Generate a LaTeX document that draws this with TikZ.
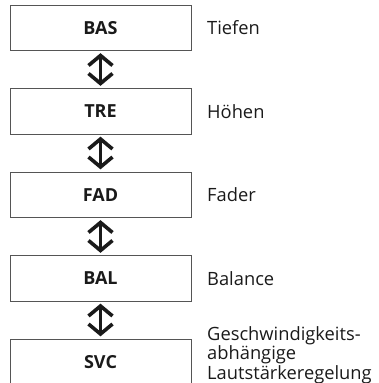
\documentclass[tikz,border=0pt]{standalone}
\usepackage{fontspec}
\setmainfont{Open Sans}
\usetikzlibrary{arrows.meta}
\definecolor{boxline}{HTML}{555555}
\definecolor{ink}{HTML}{1A1A1A}
\tikzset{
  stepbox/.style={draw=boxline, line width=0.9pt, minimum width=181pt, minimum height=45.5pt,
    inner sep=0pt, font=\fontsize{18}{20}\selectfont\bfseries, text=ink},
  desc/.style={anchor=west, inner sep=0pt, font=\fontsize{18.3}{19.5}\selectfont, text=ink, align=left},
  dblarrow/.style={draw=ink, line width=3.6pt, shorten <=2.2pt, shorten >=2.2pt,
    {Straight Barb[length=10pt,width=24pt]}-{Straight Barb[length=10pt,width=24pt]}}
}
\begin{document}
\begin{tikzpicture}[x=1pt,y=-1pt]
\useasboundingbox (0,0) rectangle (379,383);
\clip (0,0) rectangle (379,383);
\node[stepbox] (bas) at (100.5,27.75) {BAS};
\node[stepbox] (tre) at (100.5,111.25) {TRE};
\node[stepbox] (fad) at (100.5,194.75) {FAD};
\node[stepbox] (bal) at (100.5,278.25) {BAL};
\node[stepbox] (svc) at (100.5,361.75) {SVC};
\node[desc] (tbas) at (207,27.75) {Tiefen};
\node[desc] (ttre) at (207,111.25) {Höhen};
\node[desc] (tfad) at (207,194.75) {Fader};
\node[desc] (tbal) at (207,278.25) {Balance};
\node[desc] (tsvc) at (207,355) {Geschwindigkeits-\\abhängige\\Lautstärkeregelung};
\draw[dblarrow] (bas.south) -- (tre.north);
\draw[dblarrow] (tre.south) -- (fad.north);
\draw[dblarrow] (fad.south) -- (bal.north);
\draw[dblarrow] (bal.south) -- (svc.north);
\end{tikzpicture}
\end{document}
